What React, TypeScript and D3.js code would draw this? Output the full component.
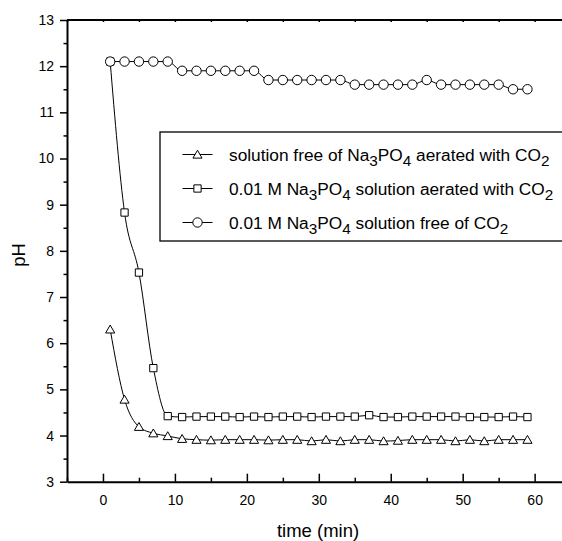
import {useEffect, useRef} from 'react';
import * as d3 from 'd3';

// time points (min)
const time = [1, 3, 5, 7, 9, 11, 13, 15, 17, 19, 21, 23, 25, 27, 29, 31, 33, 35, 37, 39, 41, 43, 45, 47, 49, 51, 53, 55, 57, 59];

// solution free of Na3PO4 aerated with CO2 (triangles)
const phFree = [6.3, 4.78, 4.19, 4.05, 3.99, 3.93, 3.91, 3.9, 3.91, 3.91, 3.91, 3.9, 3.91, 3.91, 3.88, 3.91, 3.88, 3.91, 3.91, 3.88, 3.89, 3.91, 3.91, 3.91, 3.88, 3.91, 3.88, 3.91, 3.91, 3.91];
// 0.01 M Na3PO4 aerated with CO2 (squares)
const phAerated = [12.1, 8.83, 7.53, 5.46, 4.42, 4.4, 4.41, 4.41, 4.41, 4.4, 4.41, 4.4, 4.41, 4.41, 4.4, 4.41, 4.41, 4.41, 4.44, 4.4, 4.4, 4.41, 4.41, 4.41, 4.41, 4.4, 4.4, 4.4, 4.41, 4.4];
// 0.01 M Na3PO4 free of CO2 (circles)
const phNoCO2 = [12.1, 12.1, 12.1, 12.1, 12.1, 11.9, 11.9, 11.9, 11.9, 11.9, 11.9, 11.7, 11.7, 11.7, 11.7, 11.7, 11.7, 11.6, 11.6, 11.6, 11.6, 11.6, 11.7, 11.6, 11.6, 11.6, 11.6, 11.6, 11.5, 11.5];

const xTicks = [0, 10, 20, 30, 40, 50, 60];
const xMinor = [-5, 5, 15, 25, 35, 45, 55, 65];
const yTicks = [3, 4, 5, 6, 7, 8, 9, 10, 11, 12, 13];
const yMinor = [3.5, 4.5, 5.5, 6.5, 7.5, 8.5, 9.5, 10.5, 11.5, 12.5];

// legend labels: [text, subscript?]
const legendLabels: [string, boolean][][] = [
  [['solution free of Na', false], ['3', true], ['PO', false], ['4', true], [' aerated with CO', false], ['2', true]],
  [['0.01 M Na', false], ['3', true], ['PO', false], ['4', true], [' solution aerated with CO', false], ['2', true]],
  [['0.01 M Na', false], ['3', true], ['PO', false], ['4', true], [' solution free of CO', false], ['2', true]],
];

const FONT = '"Liberation Sans", Arial, sans-serif';

const App = () => {
  const svgRef = useRef<SVGSVGElement>(null);
  const width = 562;
  const height = 541;

  useEffect(() => {
    const svg = d3.select(svgRef.current);
    svg.selectAll('*').remove();

    const left = 67, top = 20, right = 570.6, bottom = 481.7;

    const x = d3.scaleLinear().domain([-5, 65]).range([left, right]);
    const y = d3.scaleLinear().domain([3, 13]).range([bottom, top]);

    // frame top / right
    svg.append('line').attr('x1', left).attr('x2', right).attr('y1', top).attr('y2', top)
      .attr('stroke', '#000').attr('stroke-width', 2);
    svg.append('line').attr('x1', right).attr('x2', right).attr('y1', top).attr('y2', bottom)
      .attr('stroke', '#000').attr('stroke-width', 2);

    // top ticks (tiny, inward)
    svg.append('g')
      .attr('transform', `translate(0, ${top})`)
      .call(d3.axisTop(x).tickValues(xTicks.concat(xMinor)).tickSize(-2).tickSizeOuter(0).tickFormat(() => ''))
      .call(g => g.select('.domain').remove());

    // bottom axis
    const gx = svg.append('g')
      .attr('transform', `translate(0, ${bottom})`)
      .call(d3.axisBottom(x).tickValues(xTicks).tickSize(-8).tickSizeOuter(0).tickPadding(13));
    gx.select('.domain').attr('stroke-width', 2);
    gx.selectAll('text').style('font-size', '14px').style('font-family', FONT).attr('fill', '#000');
    svg.append('g')
      .attr('transform', `translate(0, ${bottom})`)
      .call(d3.axisBottom(x).tickValues(xMinor).tickSize(-4).tickSizeOuter(0).tickFormat(() => ''))
      .call(g => g.select('.domain').remove());

    // left axis
    const gy = svg.append('g')
      .attr('transform', `translate(${left}, 0)`)
      .call(d3.axisLeft(y).tickValues(yTicks).tickSize(7).tickSizeOuter(0).tickPadding(6));
    gy.select('.domain').attr('stroke-width', 2);
    gy.selectAll('text').style('font-size', '14px').style('font-family', FONT).attr('fill', '#000');
    svg.append('g')
      .attr('transform', `translate(${left}, 0)`)
      .call(d3.axisLeft(y).tickValues(yMinor).tickSize(3.5).tickSizeOuter(0).tickFormat(() => ''))
      .call(g => g.select('.domain').remove());
    svg.selectAll('.tick line').attr('stroke-width', 1.5);

    // axis titles
    svg.append('text')
      .attr('x', 318).attr('y', 537)
      .attr('text-anchor', 'middle')
      .style('font-family', FONT).style('font-size', '18.5px')
      .text('time (min)');
    svg.append('text')
      .attr('transform', 'translate(25, 255) rotate(-90)')
      .attr('text-anchor', 'middle')
      .style('font-family', FONT).style('font-size', '18.5px')
      .text('pH');

    const line = d3.line<number>()
      .x((_, i) => x(time[i]))
      .y(d => y(d))
      .curve(d3.curveMonotoneX);

    const tri = d3.symbol().type(d3.symbolTriangle).size(36)();
    const sq = d3.symbol().type(d3.symbolSquare).size(53)();
    const circ = d3.symbol().type(d3.symbolCircle).size(Math.PI * 4.7 * 4.7)();
    const markers = [tri, sq, circ];
    const series = [phFree, phAerated, phNoCO2];

    series.forEach((s, k) => {
      svg.append('path').datum(s)
        .attr('fill', 'none').attr('stroke', '#000').attr('stroke-width', 1)
        .attr('d', line);
      svg.selectAll(`.m${k}`)
        .data(s)
        .enter().append('path')
        .attr('class', `m${k}`)
        .attr('d', markers[k])
        .attr('transform', (d, i) => `translate(${x(time[i])}, ${y(d) + (k === 0 ? 1 : 0)})`)
        .attr('fill', '#fff').attr('stroke', '#000').attr('stroke-width', 1);
    });

    // legend
    const lg = svg.append('g');
    lg.append('rect')
      .attr('x', 160).attr('y', 132).attr('width', 430).attr('height', 109)
      .attr('fill', '#fff').attr('stroke', '#000').attr('stroke-width', 1.3);
    const rowY = [154.5, 188.5, 222.5];
    legendLabels.forEach((parts, k) => {
      lg.append('line')
        .attr('x1', 182.5).attr('x2', 212.5).attr('y1', rowY[k]).attr('y2', rowY[k])
        .attr('stroke', '#000').attr('stroke-width', 1);
      lg.append('path')
        .attr('d', markers[k])
        .attr('transform', `translate(197.5, ${rowY[k] + (k === 0 ? 1 : 0)})`)
        .attr('fill', '#fff').attr('stroke', '#000').attr('stroke-width', 1);
      const t = lg.append('text')
        .attr('x', 229).attr('y', rowY[k] + 6.5)
        .style('font-family', FONT).style('font-size', '17.3px');
      parts.forEach(([txt, sub], j) => {
        const prevSub = j > 0 && parts[j - 1][1];
        t.append('tspan')
          .attr('dy', sub ? 5 : prevSub ? -5 : 0)
          .style('font-size', sub ? '15.3px' : '17.3px')
          .text(txt);
      });
    });
  }, []);

  return (
    <svg
      ref={svgRef}
      width={width}
      height={height}
      style={{position: 'absolute', left: 0, top: 0, background: '#fff'}}
    />
  );
};

export default App;
